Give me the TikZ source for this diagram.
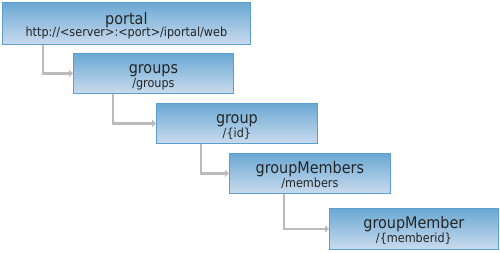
\documentclass[tikz,border=0pt]{standalone}
\usepackage{fontspec}
\usepackage{tikz}
\usetikzlibrary{positioning,arrows.meta}
\newfontfamily\boxfont{DejaVu Sans Condensed}
\definecolor{boxtop}{HTML}{6AA8D3}
\definecolor{boxbottom}{HTML}{CADBEE}
\definecolor{boxline}{HTML}{5B9FD1}
\definecolor{linkgray}{HTML}{BBBBBB}
\newcommand{\titlesize}{\fontsize{16}{14}\selectfont}
\newcommand{\pathsize}{\fontsize{12.5}{14}\selectfont}

\begin{document}
\begin{tikzpicture}[
    x=1pt, y=1pt,
    every node/.style={font=\boxfont\titlesize, text=black!85},
    box/.style={draw=boxline, top color=boxtop, bottom color=boxbottom, anchor=north west,
                minimum width=161pt, minimum height=40pt, align=center, inner sep=0pt,
                text height=30pt, text depth=2pt, line width=0.8pt},
    arr/.style={-{Triangle[length=4pt,width=7pt]}, draw=linkgray, line width=2.2pt},
]
    \useasboundingbox (0,0) rectangle (500,-252);

    \node[box, minimum width=248pt, minimum height=42pt, text height=28pt]
        (portal) at (2,-2) {portal\\[-2pt]{\pathsize http://<server>:<port>/iportal/web}};
    \node[box, minimum width=160pt] (groups) at (73,-53) {groups\\{\pathsize /groups}};
    \node[box] (group) at (156,-103) {group\\{\pathsize /\{id\}}};
    \node[box] (members) at (229,-153) {groupMembers\\{\pathsize /members}};
    \node[box, minimum width=169pt, minimum height=41pt] (member) at (329,-208)
        {groupMember\\{\pathsize /\{memberid\}}};

    \draw[arr] ([xshift=41pt]portal.south west) |- (groups.west);
    \draw[arr] ([xshift=40pt]groups.south west) |- (group.west);
    \draw[arr] ([xshift=45pt]group.south west) |- (members.west);
    \draw[arr] ([xshift=55pt]members.south west) |- (member.west);
\end{tikzpicture}
\end{document}
